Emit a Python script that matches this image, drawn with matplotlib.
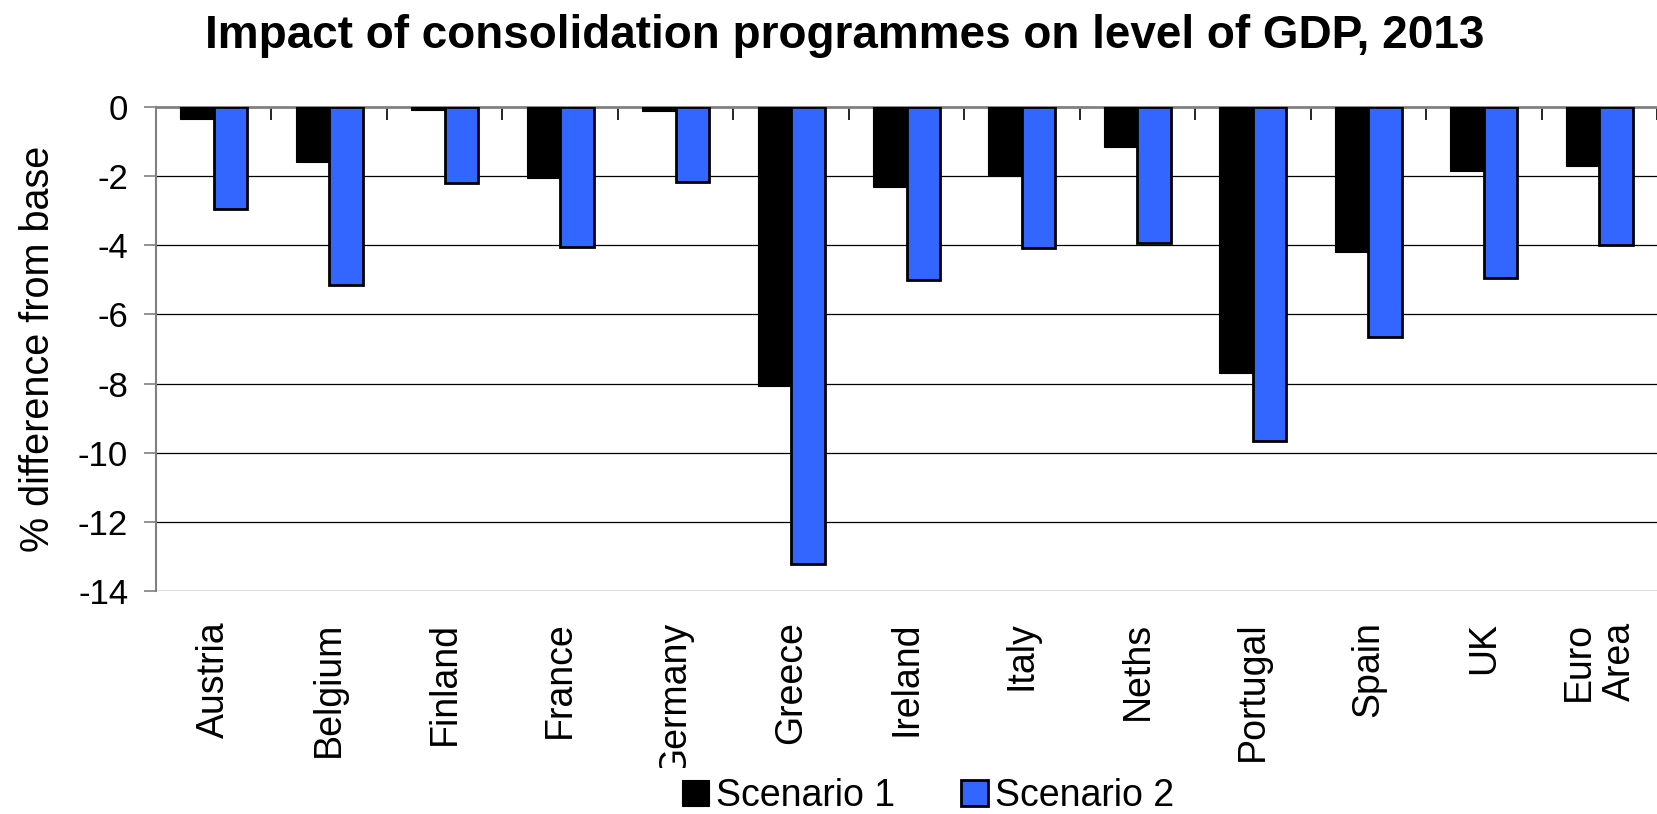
import numpy as np
import matplotlib
matplotlib.use("Agg")
import matplotlib.pyplot as plt
from matplotlib.patches import Rectangle

plt.rcParams['font.family'] = ['Liberation Sans', 'DejaVu Sans']

paises = ['Austria', 'Belgium', 'Finland', 'France', 'Germany', 'Greece', 'Ireland',
          'Italy', 'Neths', 'Portugal', 'Spain', 'UK', 'Euro\nArea']
cenario1 = [-0.35, -1.6, -0.08, -2.05, -0.12, -8.07, -2.3, -1.97, -1.17, -7.7, -4.18, -1.84, -1.72]
cenario2 = [-2.95, -5.15, -2.2, -4.05, -2.18, -13.23, -5.0, -4.08, -3.93, -9.66, -6.65, -4.96, -3.98]
yticks = [0, -2, -4, -6, -8, -10, -12, -14]

W, H = 1657, 814
fig = plt.figure(figsize=(W / 100, H / 100), dpi=100)
ax = fig.add_axes([156 / W, 223 / H, 1 - 156 / W, (591 - 107) / H])

x = np.arange(len(paises))
w = 0.29
ax.bar(x - w / 2, cenario1, w, color='black', edgecolor='black', linewidth=0.8,
       label='Scenario 1', zorder=3)
ax.bar(x + w / 2, cenario2, w, color='#3366FF', edgecolor='black', linewidth=2.0,
       label='Scenario 2', zorder=3)

ax.set_ylim(-14, 0)
ax.set_xlim(-0.5, -0.5 + (W - 156) / 116.7)
ax.set_yticks(yticks)
ax.set_yticklabels([str(v) for v in yticks], fontsize=25)
for v in yticks[1:]:
    ax.axhline(v, color='black', linewidth=0.9, zorder=1)

ax.set_xticks(x)
ax.set_xticklabels(paises, rotation=90, fontsize=27, va='top', ha='center')
ax.tick_params(axis='x', which='major', length=0, pad=22)
ax.set_xticks(np.arange(len(paises)) + 0.5, minor=True)
ax.tick_params(axis='x', which='minor', bottom=False, top=True, direction='in',
               length=9, width=1.2, color='black')
ax.tick_params(axis='y', length=9, width=1.2, color='#808080', pad=11)

for lado in ['right', 'bottom']:
    ax.spines[lado].set_visible(False)
ax.spines['top'].set_color('#808080')
ax.spines['top'].set_linewidth(2)
ax.spines['top'].set_zorder(2)
ax.spines['left'].set_color('#808080')
ax.spines['left'].set_linewidth(1.5)

ax.set_ylabel('% difference from base', fontsize=28.5)
ax.yaxis.set_label_coords(-(156 - 57) / (W - 156), 0.5)

fig.text(0.51, 1 - 36 / H, 'Impact of consolidation programmes on level of GDP, 2013',
         fontsize=33, fontweight='bold', ha='center', va='center')

# fundo branco da legenda (corta o "G" de Germany como no original)
fig.patches.append(Rectangle((650 / W, 0), (1190 - 650) / W, (H - 768) / H,
                             transform=fig.transFigure, facecolor='white',
                             edgecolor='none', zorder=4))

fig.legend(loc='center', bbox_to_anchor=(928 / W, 18 / H), ncol=2, fontsize=27,
           frameon=False, handlelength=0.72, handleheight=0.7, handletextpad=0.2,
           columnspacing=1.75, borderpad=0.2)

plt.savefig('out.png', dpi=100)
